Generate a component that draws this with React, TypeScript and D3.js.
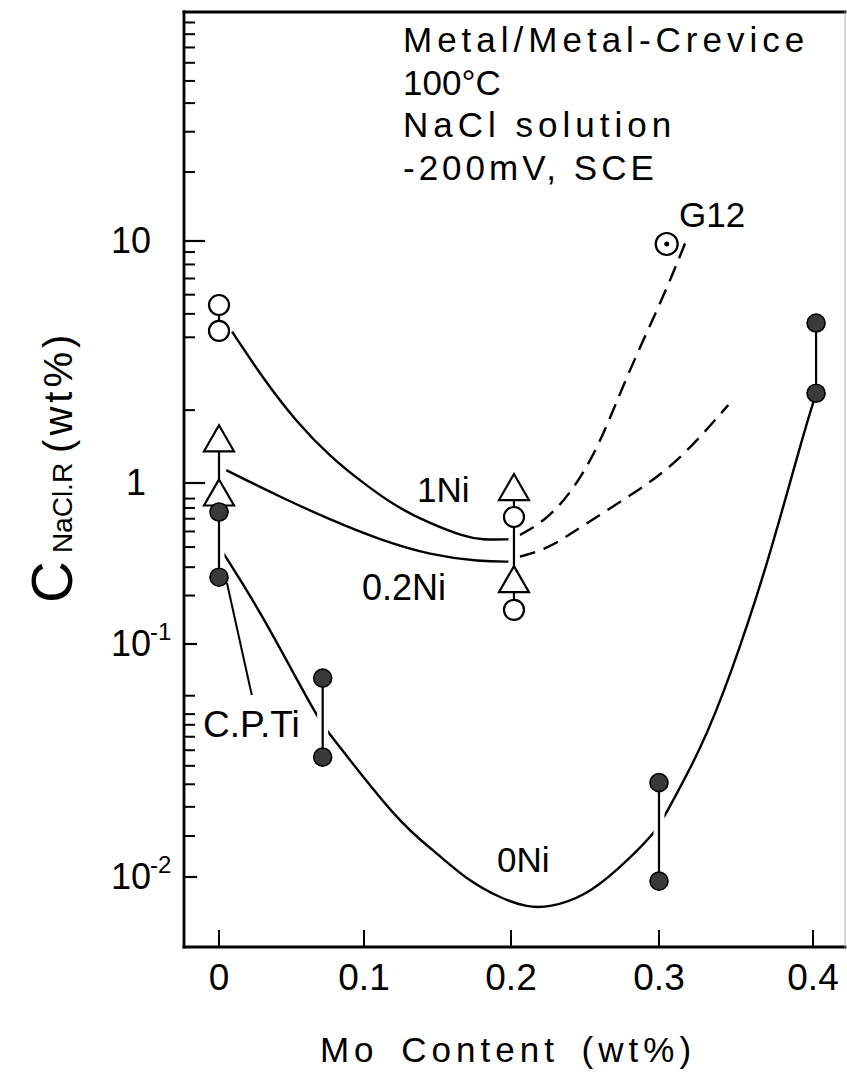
import React, { useEffect, useRef } from "react";
import * as d3 from "d3";

const width = 847;
const height = 1078;
const font = "'Liberation Sans', Arial, Helvetica, sans-serif";

// axis ticks
const moTicks = [0, 0.1, 0.2, 0.3, 0.4];
const moTickLabels = ["0", "0.1", "0.2", "0.3", "0.4"];
const cMajor = [10, 1, 0.1, 0.01];
const cMajorBase = ["10", "1", "10", "10"];
const cMajorSup = ["", "", "-1", "-2"];
const cMinor = [90, 80, 70, 60, 50, 40, 30, 20, 9, 8, 7, 6, 5, 4, 2,
    0.8, 0.7, 0.6, 0.5, 0.4, 0.3, 0.2,
    0.06, 0.05, 0.045, 0.04, 0.035, 0.03, 0.025, 0.02, 0.015];

// measured points [Mo wt%, C NaCl wt%]
const ni1Points = [[0, 5.44], [0, 4.25], [0.202, 0.615], [0.202, 0.163]];
const ni02Points = [[0, 1.53], [0, 0.873], [0.202, 0.944], [0.202, 0.253]];
const ni0Points = [[0, 0.66], [0, 0.26], [0.0715, 0.0714], [0.0715, 0.0327],
    [0.3, 0.0254], [0.3, 0.0096], [0.402, 4.58], [0.402, 2.35]];
const g12Points = [[0.305, 9.72]];

// scatter bars [Mo, high, low]
const scatterBars = [[0, 5.44, 4.25], [0, 1.53, 0.26], [0.0715, 0.0714, 0.0327],
    [0.202, 0.944, 0.163], [0.3, 0.0254, 0.0096], [0.402, 4.58, 2.35]];

// fitted curves as drawn in the figure
const ni1Fit = [[0.009, 4.22], [0.031, 2.67], [0.054, 1.77], [0.077, 1.28], [0.1, 0.99],
    [0.122, 0.71], [0.145, 0.56], [0.168, 0.465], [0.18, 0.443], [0.2, 0.447]];
const ni1FitDash = [[0.206, 0.475], [0.224, 0.59], [0.242, 0.9], [0.26, 1.44],
    [0.279, 2.85], [0.303, 5.9], [0.317, 9.8]];
const ni02Fit = [[0.005, 1.13], [0.042, 0.82], [0.077, 0.59], [0.111, 0.443],
    [0.145, 0.357], [0.179, 0.325], [0.2, 0.325]];
const ni02FitDash = [[0.206, 0.349], [0.226, 0.393], [0.251, 0.562], [0.283, 0.863],
    [0.312, 1.21], [0.345, 2.1]];
const ni0Fit = [[0.003, 0.367], [0.028, 0.163], [0.068, 0.048], [0.075, 0.042],
    [0.125, 0.0167], [0.147, 0.0131], [0.17, 0.0097], [0.193, 0.0081], [0.211, 0.0074],
    [0.226, 0.0074], [0.249, 0.0082], [0.272, 0.0107], [0.298, 0.0156], [0.304, 0.0185],
    [0.327, 0.035], [0.346, 0.072], [0.37, 0.3], [0.392, 1.46], [0.402, 2.35]];
const cpTiLeader = [[0.0226, 0.0604], [0.0055, 0.239]];

const annotation = ["Metal/Metal-Crevice", "100°C", "NaCl solution", "-200mV, SCE"];
const annotationSpacing = [5, 0, 5, 4];

export default function App() {
    const ref = useRef(null);

    useEffect(() => {
        const svg = d3.select(ref.current);
        svg.selectAll("*").remove();

        const x = d3.scaleLinear()
            .domain([0, 0.1, 0.2, 0.3, 0.4])
            .range([219, 364, 511, 659, 813]);
        const y = d3.scaleLog()
            .domain([100, 10, 1, 0.1, 0.01, 0.005])
            .range([12, 241, 483, 644, 877, 947]);

        const left = 184, right = 845, top = y(100), bottom = y(0.005);

        svg.append("rect").attr("width", width).attr("height", height).attr("fill", "#fff");

        // frame
        const frame = svg.append("g").attr("stroke", "#000").attr("stroke-linecap", "square");
        frame.append("line").attr("x1", left).attr("x2", left).attr("y1", top).attr("y2", bottom).attr("stroke-width", 2.8);
        frame.append("line").attr("x1", left).attr("x2", right).attr("y1", top).attr("y2", top).attr("stroke-width", 2.8);
        frame.append("line").attr("x1", left).attr("x2", right).attr("y1", bottom).attr("y2", bottom).attr("stroke-width", 2.8);
        frame.append("line").attr("x1", right).attr("x2", right).attr("y1", top).attr("y2", bottom)
            .attr("stroke-width", 1).attr("stroke", "#aaa");

        // y ticks
        frame.selectAll(".minor").data(cMinor).enter().append("line")
            .attr("x1", left).attr("x2", left + 10)
            .attr("y1", d => y(d)).attr("y2", d => y(d))
            .attr("stroke-width", 2);
        frame.selectAll(".major").data(cMajor).enter().append("line")
            .attr("x1", left).attr("x2", d => left + (d >= 1 ? 20 : 12))
            .attr("y1", d => y(d)).attr("y2", d => y(d))
            .attr("stroke-width", 2.2);

        // x ticks
        frame.selectAll(".xt").data(moTicks).enter().append("line")
            .attr("x1", d => x(d)).attr("x2", d => x(d))
            .attr("y1", bottom).attr("y2", bottom - 16)
            .attr("stroke-width", 2);

        const txt = svg.append("g").attr("font-family", font).attr("fill", "#000");

        // tick labels
        txt.selectAll(".xl").data(moTicks).enter().append("text")
            .attr("x", d => x(d)).attr("y", 990)
            .attr("text-anchor", "middle").attr("font-size", 37)
            .text((d, i) => moTickLabels[i]);

        cMajor.forEach((v, i) => {
            txt.append("text")
                .attr("x", cMajorBase[i] === "1" ? 136 : 131).attr("y", y(v) + 12)
                .attr("text-anchor", "middle").attr("font-size", 36)
                .text(cMajorBase[i]);
            if (cMajorSup[i]) {
                txt.append("text")
                    .attr("x", 150).attr("y", y(v) - 4)
                    .attr("font-size", 24)
                    .text(cMajorSup[i]);
            }
        });

        // axis titles
        txt.append("text")
            .attr("x", 508).attr("y", 1062)
            .attr("text-anchor", "middle").attr("font-size", 35)
            .attr("letter-spacing", 5).attr("word-spacing", 8)
            .text("Mo Content (wt%)");

        const yt = txt.append("text").attr("transform", "translate(72,603) rotate(-90)");
        yt.append("tspan").attr("font-size", 58).text("C");
        yt.append("tspan").attr("font-size", 28).attr("dx", 8).text("NaCl.R");
        yt.append("tspan").attr("font-size", 40).attr("dx", 10).attr("letter-spacing", 4).text("(wt%)");

        // condition block
        annotation.forEach((s, i) => {
            txt.append("text")
                .attr("x", 403).attr("y", 52 + i * 42.5)
                .attr("font-size", 35).attr("letter-spacing", annotationSpacing[i])
                .text(s);
        });

        // fitted curves
        const line = d3.line()
            .x(d => x(d[0]))
            .y(d => y(d[1]))
            .curve(d3.curveBasis);

        const curves = svg.append("g").attr("fill", "none").attr("stroke", "#000").attr("stroke-width", 2.4);
        [[ni1Fit, null], [ni1FitDash, "16,9"], [ni02Fit, null], [ni02FitDash, "16,9"], [ni0Fit, null]]
            .forEach(([pts, dash]) => {
                curves.append("path").attr("d", line(pts)).attr("stroke-dasharray", dash);
            });

        // scatter bars with a white gap where curves pass
        const bars = svg.append("g");
        bars.selectAll(".halo").data(scatterBars).enter().append("line")
            .attr("x1", d => x(d[0])).attr("x2", d => x(d[0]))
            .attr("y1", d => y(d[1])).attr("y2", d => y(d[2]))
            .attr("stroke", "#fff").attr("stroke-width", 11);
        bars.selectAll(".bar").data(scatterBars).enter().append("line")
            .attr("x1", d => x(d[0])).attr("x2", d => x(d[0]))
            .attr("y1", d => y(d[1])).attr("y2", d => y(d[2]))
            .attr("stroke", "#000").attr("stroke-width", 2.2);

        // C.P.Ti leader
        svg.append("path").attr("d", d3.line().x(d => x(d[0])).y(d => y(d[1]))(cpTiLeader))
            .attr("fill", "none").attr("stroke", "#000").attr("stroke-width", 2);

        // markers
        const marks = svg.append("g").attr("stroke", "#000");
        marks.selectAll(".ni1").data(ni1Points).enter().append("circle")
            .attr("cx", d => x(d[0])).attr("cy", d => y(d[1])).attr("r", 10)
            .attr("fill", "#fff").attr("stroke-width", 2.2);
        marks.selectAll(".ni02").data(ni02Points).enter().append("path")
            .attr("d", d => {
                const cx = x(d[0]), cy = y(d[1]);
                return `M${cx},${cy - 13}L${cx + 15},${cy + 13}L${cx - 15},${cy + 13}Z`;
            })
            .attr("fill", "#fff").attr("stroke-width", 2.2).attr("stroke-linejoin", "miter");
        marks.selectAll(".ni0").data(ni0Points).enter().append("circle")
            .attr("cx", d => x(d[0])).attr("cy", d => y(d[1])).attr("r", 9)
            .attr("fill", "#3a3a3a").attr("stroke-width", 1.6);
        marks.selectAll(".g12").data(g12Points).enter().append("circle")
            .attr("cx", d => x(d[0])).attr("cy", d => y(d[1])).attr("r", 11)
            .attr("fill", "#fff").attr("stroke-width", 2.2);
        marks.selectAll(".g12dot").data(g12Points).enter().append("circle")
            .attr("cx", d => x(d[0])).attr("cy", d => y(d[1])).attr("r", 2.5)
            .attr("fill", "#000").attr("stroke", "none");

        // series labels
        const labels = [
            ["1Ni", 417, 502, 35],
            ["0.2Ni", 362, 600, 36],
            ["0Ni", 497, 872, 35],
            ["G12", 679, 227, 35],
            ["C.P.Ti", 203, 737, 37],
        ];
        labels.forEach(([s, lx, ly, fs]) => {
            txt.append("text").attr("x", lx).attr("y", ly).attr("font-size", fs).text(s);
        });
        txt.raise();
    }, []);

    return (
        <svg
            ref={ref}
            width={width}
            height={height}
            viewBox={`0 0 ${width} ${height}`}
            style={{ position: "absolute", left: 0, top: 0, display: "block" }}
        />
    );
}
